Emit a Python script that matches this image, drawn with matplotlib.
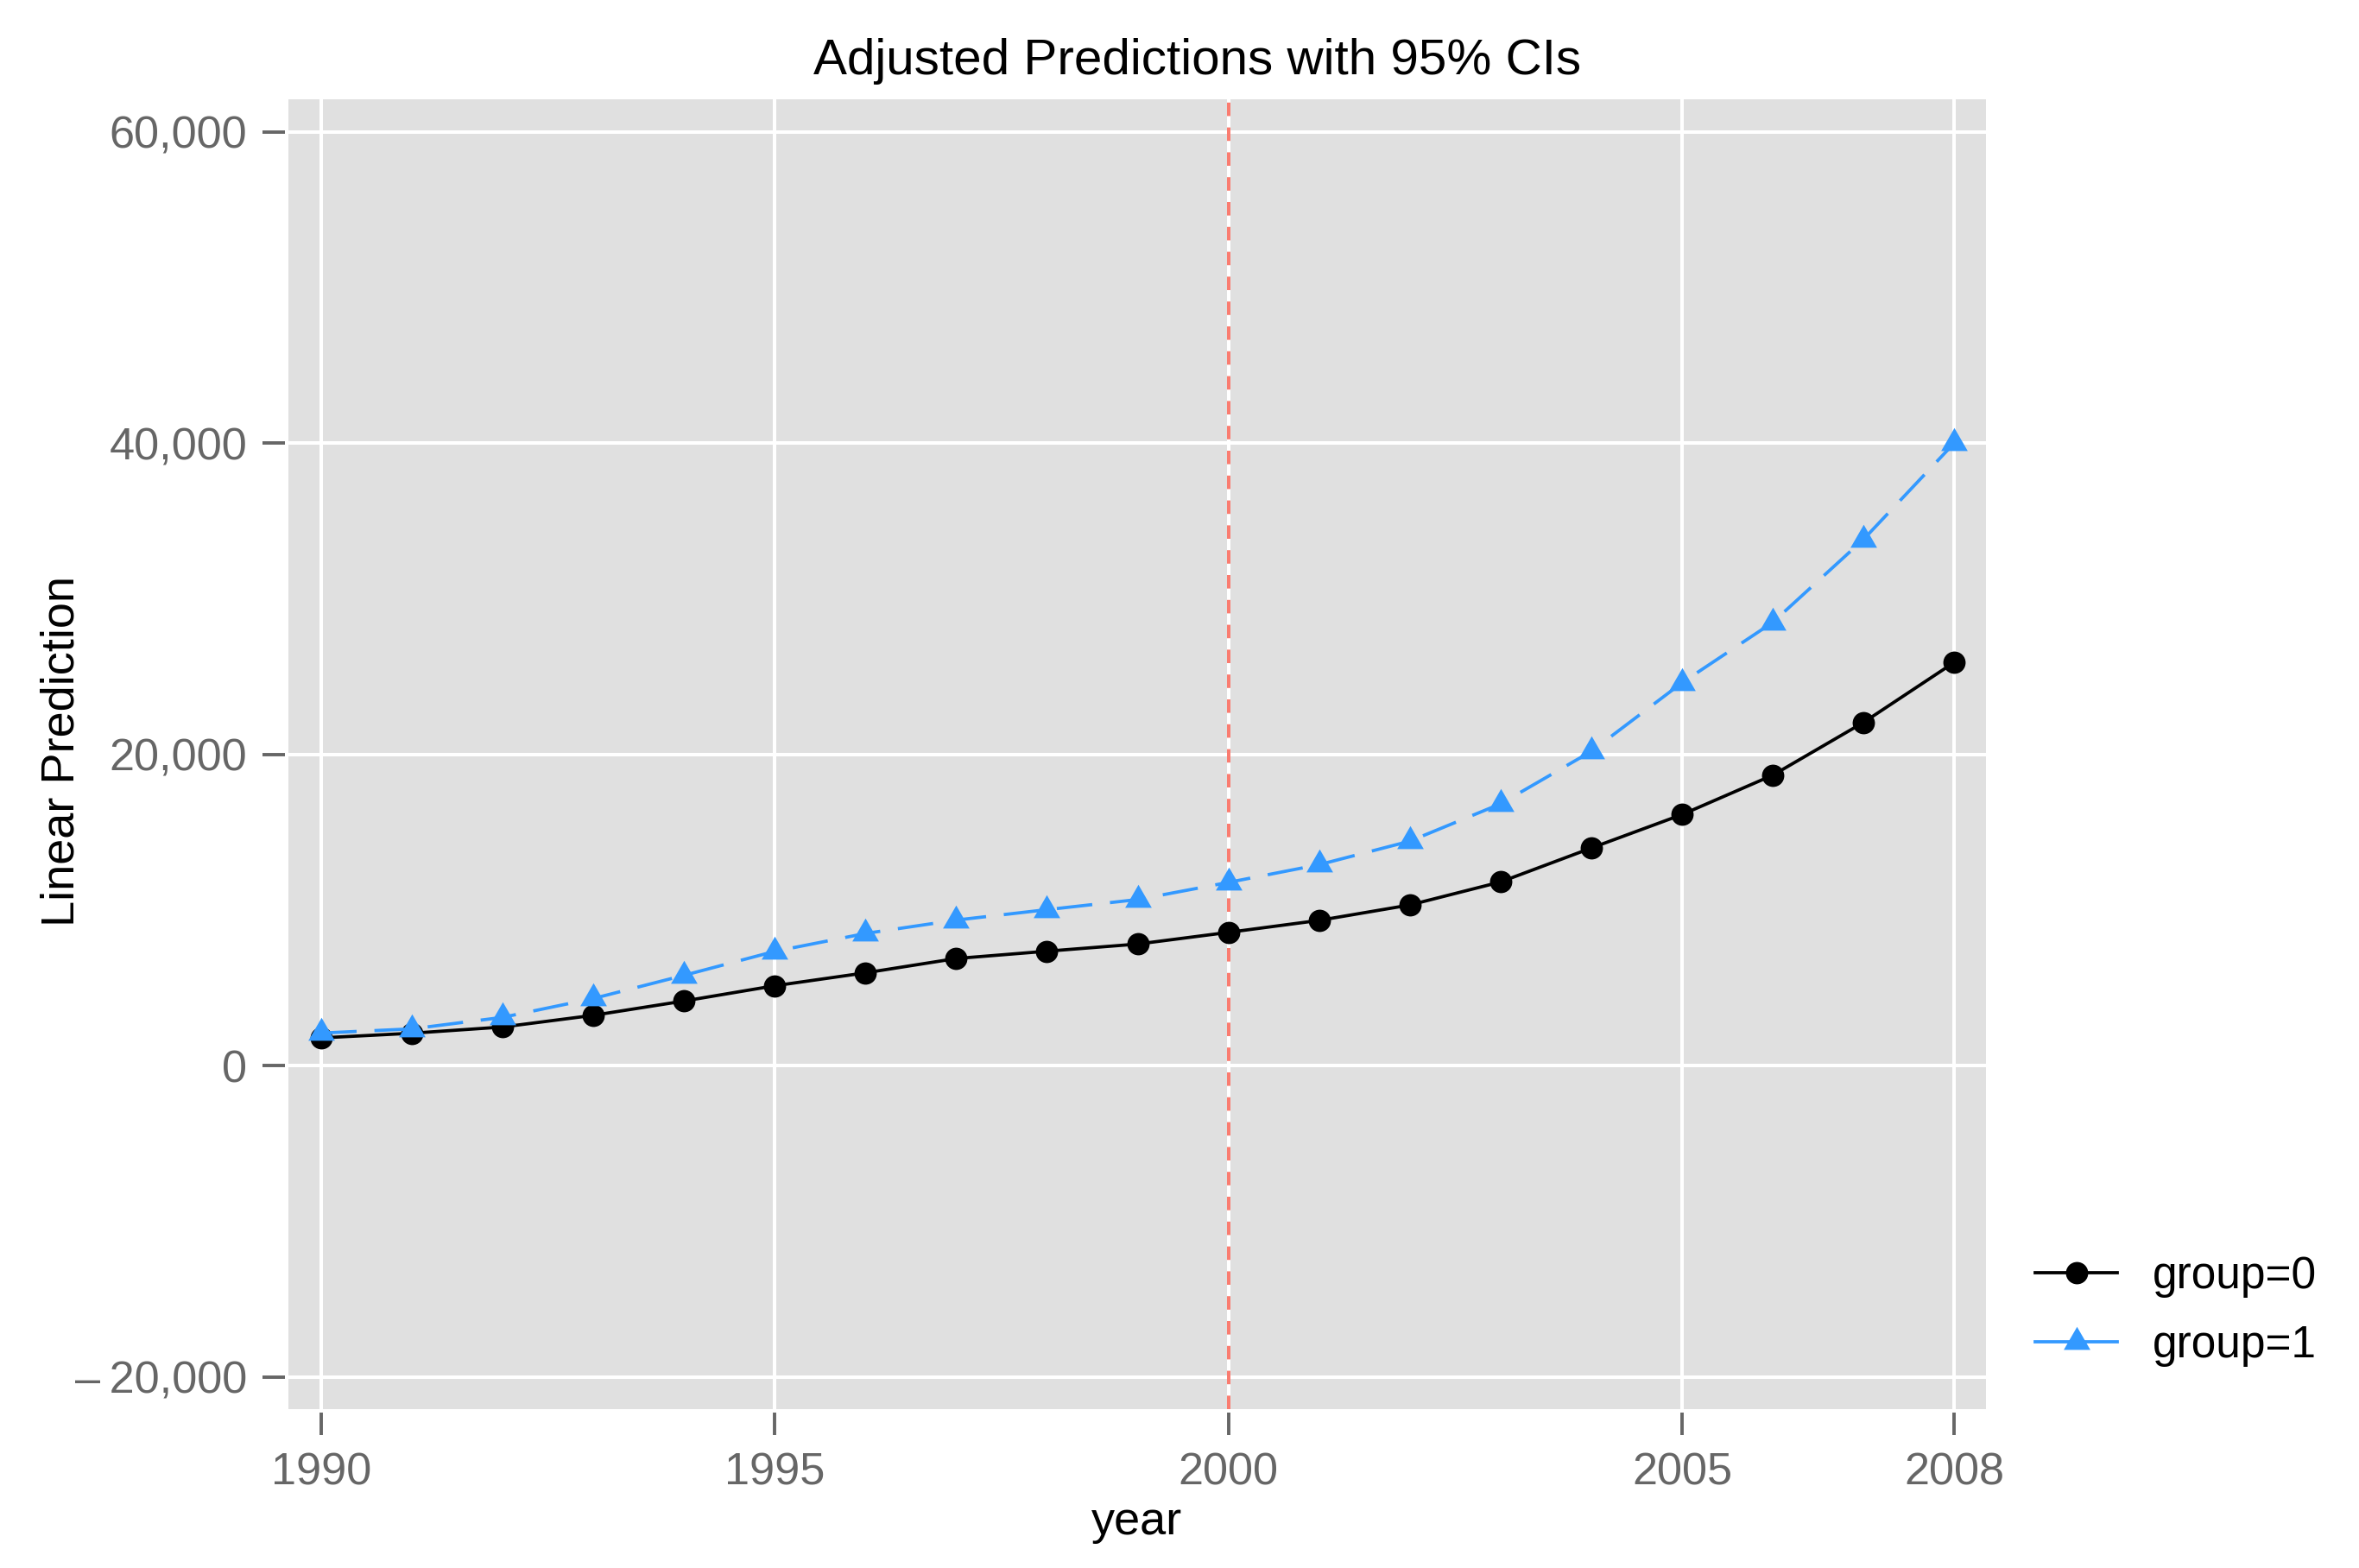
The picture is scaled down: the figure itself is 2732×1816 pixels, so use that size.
import matplotlib
matplotlib.use("Agg")
import matplotlib.pyplot as plt
from matplotlib.path import Path
from matplotlib.lines import Line2D

plt.rcParams['font.family'] = ['Liberation Sans', 'DejaVu Sans']

# ---- data ----
years = [1990, 1991, 1992, 1993, 1994, 1995, 1996, 1997, 1998, 1999,
         2000, 2001, 2002, 2003, 2004, 2005, 2006, 2007, 2008]
group0 = [1800, 2100, 2500, 3250, 4170, 5150, 5980, 6900, 7370, 7830,
          8580, 9350, 10340, 11820, 14000, 16150, 18680, 22070, 25930]
group1 = [2110, 2380, 3120, 4330, 5820, 7360, 8510, 9370, 10040, 10690,
          11790, 12930, 14440, 16840, 20210, 24620, 28500, 33830, 40020]
series_labels = ["group=0", "group=1"]
x_ticks = [1990, 1995, 2000, 2005, 2008]
x_tick_labels = ["1990", "1995", "2000", "2005", "2008"]
y_ticks = [-20000, 0, 20000, 40000, 60000]
y_tick_labels = ["\u2013\u200920,000", "0", "20,000", "40,000", "60,000"]
ref_year = 2000
title = "Adjusted Predictions with 95% CIs"
x_label = "year"
y_label = "Linear Prediction"

# ---- figure ----
W, H, DPI = 2732, 1816, 200
fig = plt.figure(figsize=(W / DPI, H / DPI), dpi=DPI)
ax = fig.add_axes([334 / W, 1 - 1632 / H, (2300 - 334) / W, (1632 - 115) / H])

panel = "#E0E0E0"
tickc = "#666666"
blue = "#3399FF"
red = "#FA7C70"

ax.set_facecolor(panel)
for s in ax.spines.values():
    s.set_visible(False)
    s.set_position(('outward', 1.4))

ax.set_xlim(1989.64, 2008.35)
ax.set_ylim(-22053, 62108)

ax.set_xticks(x_ticks)
ax.set_xticklabels(x_tick_labels)
ax.set_yticks(y_ticks)
ax.set_yticklabels(y_tick_labels)
ax.tick_params(axis='both', direction='out', length=9.5, width=1.4, color=tickc,
               labelcolor=tickc, labelsize=18.8)
ax.tick_params(axis='x', pad=7.0)
ax.tick_params(axis='y', pad=6.3)

ax.grid(True, color='white', linewidth=1.44, zorder=0)
ax.set_axisbelow(True)

ax.axvline(ref_year, color=red, linewidth=1.44, dashes=(3.9, 3.3), zorder=1.5)

tri = Path([(0, 1), (-0.866, -0.5), (0.866, -0.5), (0, 1)],
           [Path.MOVETO, Path.LINETO, Path.LINETO, Path.CLOSEPOLY])

lw = 1.35
ms_c = 9.3
ms_t = 12.8

ax.plot(years, group0, color='black', linewidth=lw, marker='o', markersize=ms_c,
        markeredgewidth=0, zorder=3)
ax.plot(years, group1, color=blue, linewidth=lw, dashes=(11, 5.5), marker=tri,
        markersize=ms_t, markeredgewidth=0, zorder=3)

fig.text(1387 / W, 1 - 86 / H, title, ha='center', va='baseline', fontsize=21.0,
         color='black')
fig.text(1317 / W, 1 - 1777 / H, x_label, ha='center', va='baseline', fontsize=19.5,
         color='black')
fig.text(47 / W, 1 - 870 / H, y_label, ha='left', va='center', rotation=90,
         fontsize=19.5, color='black')

handles = [
    Line2D([0], [0], color='black', linewidth=lw, marker='o', markersize=ms_c,
           markeredgewidth=0),
    Line2D([0], [0], color=blue, linewidth=lw, marker=tri, markersize=ms_t,
           markeredgewidth=0),
]
fig.legend(handles, series_labels, loc='center left',
           bbox_to_anchor=(2357 / W, 1 - 1518.5 / H), frameon=False,
           fontsize=18.5, handlelength=1.85, handletextpad=0.8,
           labelspacing=0.6, borderpad=0, borderaxespad=0, numpoints=1)

fig.savefig("out.png", dpi=DPI)
